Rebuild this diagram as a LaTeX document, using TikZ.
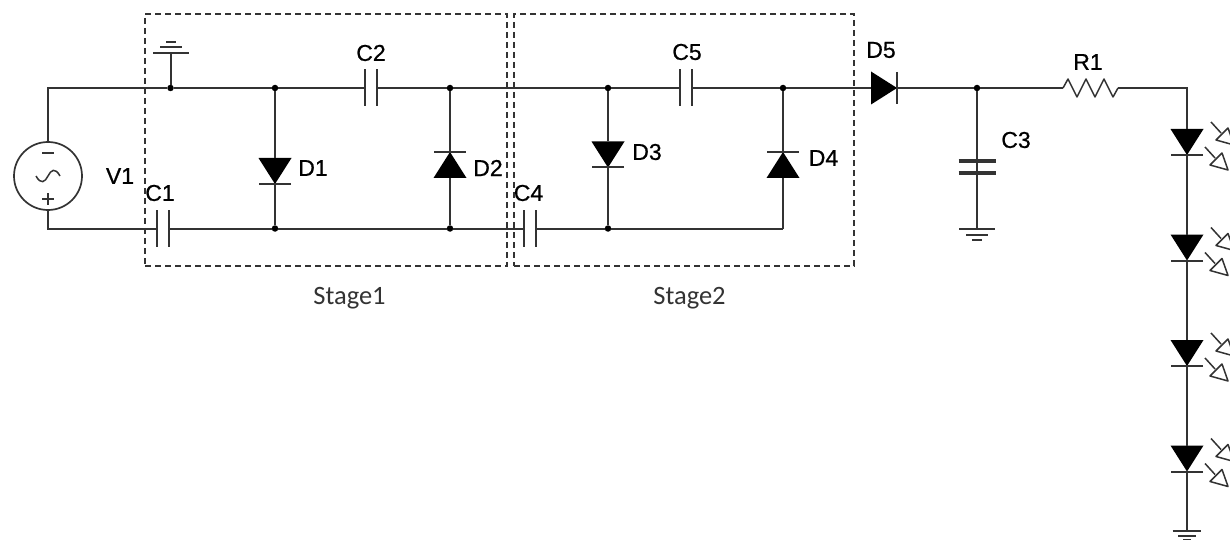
\documentclass[tikz,border=0pt]{standalone}
\usepackage{fontspec}
\setmainfont{Liberation Sans}
\newfontfamily\labelfont[FakeBold=0.7]{Liberation Sans}
\newfontfamily\stagefont{Carlito}
\usetikzlibrary{positioning}
\definecolor{wirecol}{rgb}{0.2, 0.2, 0.2}
\tikzset{%
  % Specifications for style of nodes:
       wire/.style = {draw=wirecol, line width=2pt},
      plate/.style = {wire, line width=2.5pt},
      stage/.style = {draw=wirecol, line width=1.3pt, dash pattern=on 6pt off 4pt},
        dot/.style = {circle, fill=black, inner sep=0pt, minimum size=6.5pt},
     source/.style = {circle, draw=wirecol, line width=1.7pt, inner sep=0pt,
                      minimum size=68pt},
      label/.style = {font=\labelfont\fontsize{23}{23}\selectfont, text=black, inner sep=0pt},
  stagelabel/.style = {font=\stagefont\fontsize{26.5}{26.5}\selectfont, text=wirecol, inner sep=0pt},
  % Specifications for the parts:
  capacitor/.pic = {
    \draw[plate] (-6,-18.5) -- (-6,18.5);
    \draw[plate] (6,-18.5) -- (6,18.5);
    \coordinate (-a) at (-6,0);
    \coordinate (-b) at (6,0);
  },
  diode/.pic = {
    \fill[black] (-13,-16.5) -- (-13,16.5) -- (13,0) -- cycle;
    \draw[wire] (13,-16) -- (13,16);
    \coordinate (-a) at (-13,0);
    \coordinate (-b) at (13,0);
  },
  emission/.pic = {
    \draw[wire, line width=1.5pt] (0,0) -- (10,11);
    \draw[wire, line width=1.5pt, fill=white, line join=round] (5,18) -- (17,6) -- (23,23) -- cycle;
  },
  ground/.pic = {
    \draw[wire] (-18,0) -- (18,0);
    \draw[wire] (-11,6) -- (11,6);
    \draw[wire] (-5,11) -- (5,11);
    \coordinate (-a) at (0,0);
  },
}
\begin{document}
\begin{tikzpicture}[x=1pt, y=-1pt]
  \useasboundingbox (0,0) rectangle (1230,540);
  % Specification of the two stages
  \node (stage1) [stage, minimum width=362pt, minimum height=252pt] at (326,140) {};
  \node (stage2) [stage, minimum width=340pt, minimum height=252pt] at (684,140) {};
  \node (stage1text) [stagelabel] at (349.5,298) {Stage1};
  \node (stage2text) [stagelabel] at (689.5,298) {Stage2};
  % Specification of parts (position, etc.)
  \node (V1) [source] at (48,176) {};
  \pic (C1) at (163,228.5) {capacitor};
  \pic (C2) at (371,88) {capacitor};
  \pic (C4) at (530,228.5) {capacitor};
  \pic (C5) at (686,88) {capacitor};
  \pic[rotate=90, plate/.style={wire, line width=3.4pt}] (C3) at (977,167) {capacitor};
  \pic[rotate=-90] (D1) at (275,171) {diode};
  \pic[rotate=90] (D2) at (450,165) {diode};
  \pic[rotate=-90] (D3) at (608,154.5) {diode};
  \pic[rotate=90] (D4) at (783,165) {diode};
  \pic (D5) at (884,88) {diode};
  \foreach \ledname/\ledy in {L1/142, L2/247.5, L3/353, L4/458.5} {
    \pic[rotate=-90] (\ledname) at (1187,\ledy) {diode};
    \pic at (1211,\ledy-20) {emission};
    \pic at (1205,\ledy+5) {emission};
  }
  \pic[rotate=180] (G1) at (170.5,53) {ground};
  \pic (G2) at (977,229) {ground};
  \pic[scale=0.8] (G3) at (1187,531) {ground};
  % Specification of junctions
  \coordinate (cornerA) at (48,88);
  \coordinate (cornerB) at (48,228.5);
  \coordinate (cornerC) at (1187,88);
  \node (J1) [dot] at (170.5,88) {};
  \node (J2) [dot] at (275,88) {};
  \node (J3) [dot] at (450,88) {};
  \node (J4) [dot] at (608,88) {};
  \node (J5) [dot] at (783,88) {};
  \node (J6) [dot] at (977,88) {};
  \node (J7) [dot] at (275,228.5) {};
  \node (J8) [dot] at (450,228.5) {};
  \node (J9) [dot] at (608,228.5) {};
  \coordinate (J10) at (783,228.5);
  \coordinate (R1a) at (1063,88);
  \coordinate (R1b) at (1118,88);
  % Specification of lines between parts
  \draw[wire] (V1) -- (cornerA) -- (J1) -- (J2) -- (C2-a);
  \draw[wire] (C2-b) -- (J3) -- (J4) -- (C5-a);
  \draw[wire] (C5-b) -- (J5) -- (D5-a);
  \draw[wire] (D5-b) -- (J6) -- (R1a);
  \draw[wire, line width=1.5pt, line join=round] (R1a) -- ++(5,-9) -- ++(9,18) -- ++(9,-18)
    -- ++(9,18) -- ++(9,-18) -- ++(9,18) -- (R1b);
  \draw[wire] (R1b) -- (cornerC) -- (L1-a);
  \draw[wire] (L1-b) -- (L2-a);
  \draw[wire] (L2-b) -- (L3-a);
  \draw[wire] (L3-b) -- (L4-a);
  \draw[wire] (L4-b) -- (G3-a);
  \draw[wire] (V1) -- (cornerB) -- (C1-a);
  \draw[wire] (C1-b) -- (J7) -- (J8) -- (C4-a);
  \draw[wire] (C4-b) -- (J9) -- (J10);
  \draw[wire] (J1) -- (G1-a);
  \draw[wire] (J2) -- (D1-a);
  \draw[wire] (D1-b) -- (J7);
  \draw[wire] (J8) -- (D2-a);
  \draw[wire] (D2-b) -- (J3);
  \draw[wire] (J4) -- (D3-a);
  \draw[wire] (D3-b) -- (J9);
  \draw[wire] (J10) -- (D4-a);
  \draw[wire] (D4-b) -- (J5);
  \draw[wire] (J6) -- (C3-a);
  \draw[wire] (C3-b) -- (G2-a);
  % Signs inside the source
  \draw[wire] ([yshift=23pt]V1.center) ++(-6,0) -- ++(12,0);
  \draw[wire] ([yshift=-23pt]V1.center) ++(-6,0) -- ++(12,0);
  \draw[wire] ([yshift=-23pt]V1.center) ++(0,-6) -- ++(0,12);
  \draw[wire, line width=1.5pt] ([xshift=-12pt]V1.center) .. controls ([xshift=-7pt,yshift=-9pt]V1.center) and ([xshift=-3pt,yshift=-6pt]V1.center) .. (V1.center)
    .. controls ([xshift=3pt,yshift=6pt]V1.center) and ([xshift=7pt,yshift=9pt]V1.center) .. ([xshift=12pt]V1.center);
  % Labels
  \node (V1text) [label] at (120,176) {V1};
  \node (C1text) [label] at (160,193) {C1};
  \node (C2text) [label] at (371,53) {C2};
  \node (C3text) [label] at (1016,140) {C3};
  \node (C4text) [label] at (528.5,193) {C4};
  \node (C5text) [label] at (687,52) {C5};
  \node (D1text) [label] at (313,168) {D1};
  \node (D2text) [label] at (488,168) {D2};
  \node (D3text) [label] at (647,152) {D3};
  \node (D4text) [label] at (823.5,158) {D4};
  \node (D5text) [label] at (881,50) {D5};
  \node (R1text) [label] at (1088,62) {R1};
\end{tikzpicture}
\end{document}
